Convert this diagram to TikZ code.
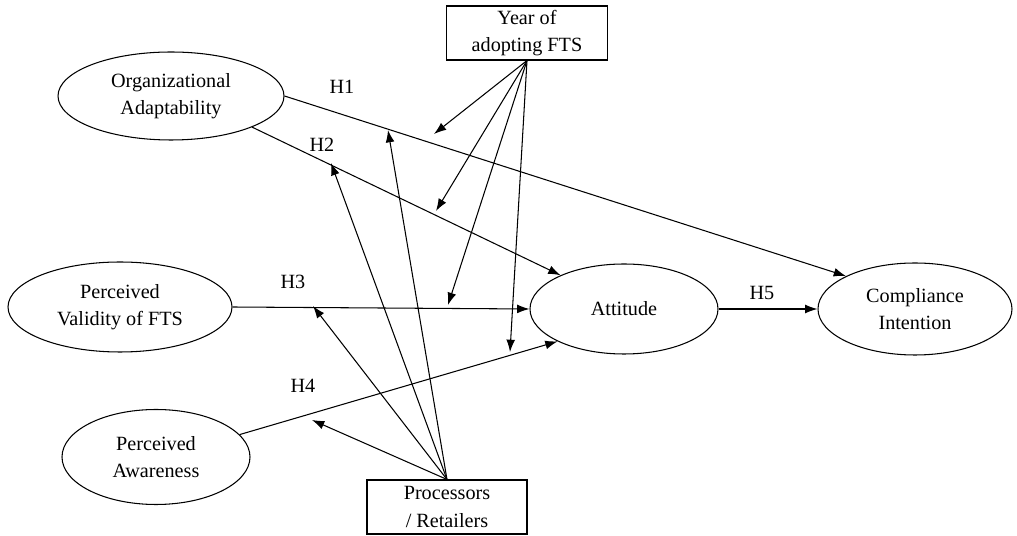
\documentclass[tikz,border=0pt]{standalone}
\usepackage{fontspec}
\setmainfont{Liberation Serif}
\usetikzlibrary{shapes.geometric, arrows.meta}
\begin{document}
\begin{tikzpicture}[
  construct/.style={ellipse, draw, line width=0.6pt, inner sep=0pt, align=center,
    font=\fontsize{11.5}{15.5}\selectfont},
  ctrl/.style={rectangle, draw, line width=0.6pt, inner sep=0pt, align=center,
    font=\fontsize{11.5}{15.5}\selectfont},
  path/.style={line width=0.6pt, -{Latex[length=7pt, width=5pt]}},
  hyp/.style={font=\fontsize{11.5}{13}\selectfont}
]
\useasboundingbox (0, 0) rectangle (20.34, -10.72);
\node[construct, minimum width=4.52cm, minimum height=1.76cm] (org) at (3.42, -1.92) {Organizational\\Adaptability};
\node[construct, minimum width=4.48cm, minimum height=1.80cm] (val) at (2.40, -6.14) {Perceived\\Validity of FTS};
\node[construct, minimum width=3.76cm, minimum height=1.90cm] (aw) at (3.12, -9.14) {Perceived\\Awareness};
\node[construct, minimum width=3.76cm, minimum height=1.80cm] (att) at (12.48, -6.18) {Attitude};
\node[construct, minimum width=3.88cm, minimum height=1.84cm] (comp) at (18.30, -6.18) {Compliance\\Intention};
\node[ctrl, minimum width=3.22cm, minimum height=1.08cm] (year) at (10.54, -0.66) {Year of\\adopting FTS};
\node[ctrl, minimum width=3.20cm, minimum height=1.08cm] (proc) at (8.94, -10.14) {Processors\\/ Retailers};
\draw[path] (org.east) -- (comp.north west);
\draw[path] (org.-21) -- (att.152);
\draw[path] (val.east) -- (att.west);
\draw[path] (aw.15) -- (att.206);
\draw[path] (att.east) -- (comp.west);
\node[hyp] (h1) at (6.84, -1.74) {H1};
\node[hyp] (h2) at (6.44, -2.90) {H2};
\node[hyp] (h3) at (5.86, -5.64) {H3};
\node[hyp] (h4) at (6.06, -7.72) {H4};
\node[hyp] (h5) at (15.24, -5.86) {H5};
\coordinate (y1) at (8.68, -2.68);
\coordinate (y2) at (8.72, -4.22);
\coordinate (y3) at (8.96, -6.10);
\coordinate (y4) at (10.20, -7.04);
\foreach \t in {y1, y2, y3, y4}
  \draw[path] (year.south) -- (\t);
\coordinate (p1) at (7.76, -2.60);
\coordinate (p2) at (6.62, -3.26);
\coordinate (p3) at (6.26, -6.12);
\coordinate (p4) at (6.24, -8.40);
\foreach \t in {p1, p2, p3, p4}
  \draw[path] (proc.north) -- (\t);
\end{tikzpicture}
\end{document}
